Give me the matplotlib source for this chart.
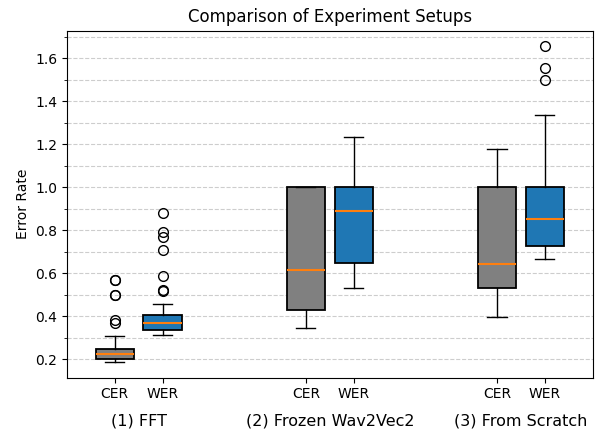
import matplotlib
matplotlib.use("Agg")
import matplotlib.pyplot as plt
from matplotlib.ticker import MultipleLocator
import matplotlib.transforms as mtransforms

groups = ["(1) FFT", "(2) Frozen Wav2Vec2", "(3) From Scratch"]
metrics = ["CER", "WER"]
colors = ["gray", "#1f77b4"]

# box stats, order: FFT CER, FFT WER, Frozen CER, Frozen WER, Scratch CER, Scratch WER
med = [0.223, 0.371, 0.617, 0.890, 0.642, 0.854]
q1 = [0.201, 0.335, 0.431, 0.648, 0.533, 0.730]
q3 = [0.247, 0.405, 1.000, 1.000, 1.000, 1.000]
whislo = [0.189, 0.313, 0.347, 0.533, 0.397, 0.667]
whishi = [0.307, 0.459, 1.000, 1.237, 1.180, 1.338]
fliers = [
    [0.571, 0.568, 0.501, 0.498, 0.385, 0.368],
    [0.880, 0.794, 0.771, 0.710, 0.587, 0.521, 0.519],
    [],
    [],
    [],
    [1.656, 1.557, 1.498],
]

stats = []
for i in range(6):
    stats.append(dict(med=med[i], q1=q1[i], q3=q3[i], whislo=whislo[i],
                      whishi=whishi[i], fliers=fliers[i]))

positions = [1, 2, 5, 6, 9, 10]

fig, ax = plt.subplots(figsize=(5.98, 4.32), dpi=100)
fig.subplots_adjust(left=0.112, right=0.991, top=0.929, bottom=0.126)

bp = ax.bxp(stats, positions=positions, widths=0.8, patch_artist=True,
            medianprops=dict(color="#ff7f0e", linewidth=1.5),
            flierprops=dict(marker="o", markerfacecolor="none", markeredgecolor="black", markersize=7))
for i, box in enumerate(bp["boxes"]):
    box.set_facecolor(colors[i % 2])
    box.set_edgecolor("black")
    box.set_linewidth(1.3)

ax.set_xlim(0, 11)
ax.set_xticks(positions)
ax.set_xticklabels(metrics * 3)
ax.yaxis.set_minor_locator(MultipleLocator(0.1))
ax.grid(axis="y", which="both", linestyle="--", color="#c8c8c8", alpha=0.9)
ax.set_axisbelow(True)

trans = mtransforms.blended_transform_factory(ax.transData, ax.transAxes)
for j, g in enumerate(groups):
    ax.text(positions[2 * j] + 0.5, -0.125, g, transform=trans, ha="center", va="center", fontsize=11.5)

ax.set_ylabel("Error Rate")
ax.set_title("Comparison of Experiment Setups")

fig.savefig("out.png")
